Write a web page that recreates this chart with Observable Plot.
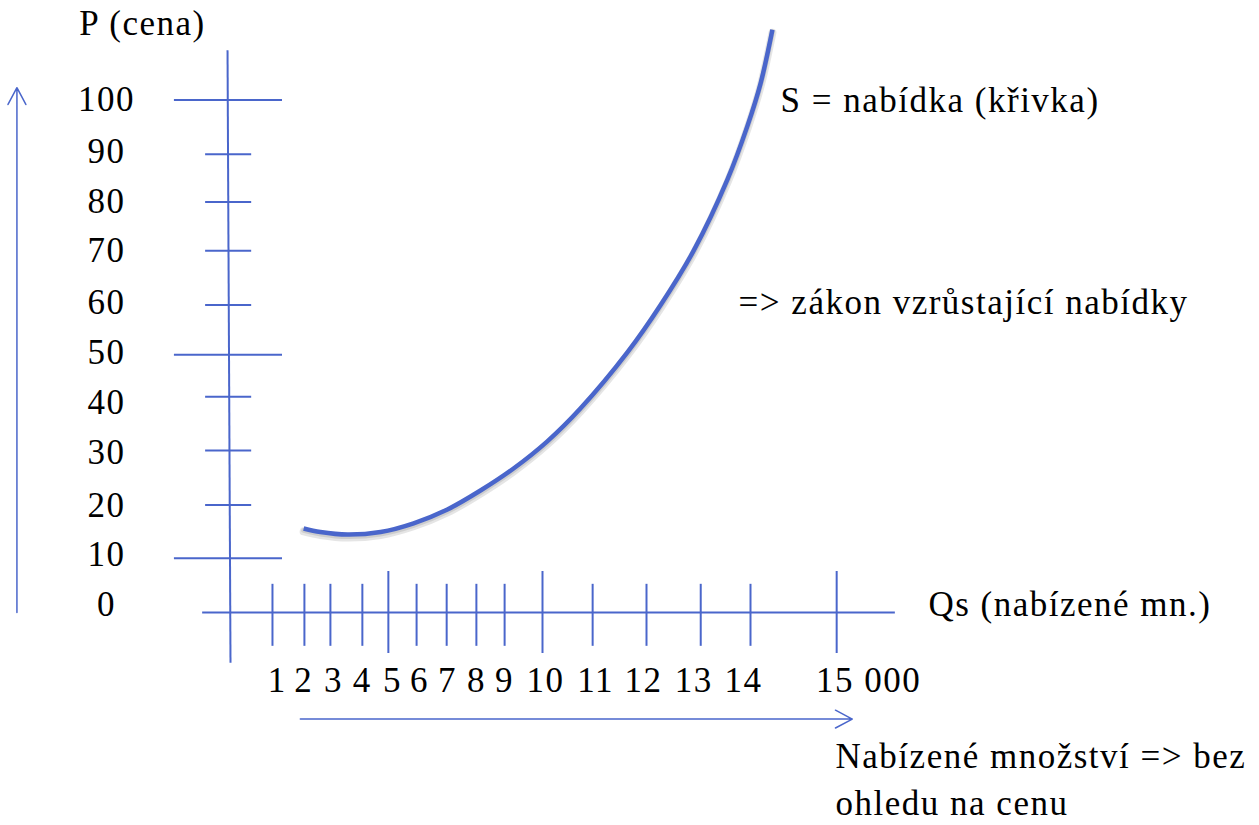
<!DOCTYPE html>
<html>
<head>
<meta charset="utf-8">
<script src="https://cdn.jsdelivr.net/npm/d3@7"></script>
<script src="https://cdn.jsdelivr.net/npm/@observablehq/plot@0.6"></script>
<style>
  html, body { margin: 0; padding: 0; background: #fff; overflow: hidden; }
</style>
</head>
<body>
<div id="chart"></div>
<script>
// ---- Data ----
// Price axis (P): nominal tick values, and where each tick is actually drawn (hand-drawn, slightly irregular)
const yTickValues   = [100, 90, 80, 70, 60, 50, 40, 30, 20, 10];
const yTickDrawnAt  = [100, 89.4, 80.1, 70.6, 60.0, 50.3, 42.1, 31.6, 21.0, 10.6];
const yTickMajor    = [true, false, false, false, false, true, false, false, false, true];
const yLabels       = ["0", "10", "20", "30", "40", "50", "60", "70", "80", "90", "100"];
const yLabelAt      = [1.6, 11.3, 20.9, 31.1, 40.9, 50.7, 60.4, 70.6, 80.2, 89.8, 100];

// Quantity axis (Qs): tick labels, drawn tick positions, label positions
const xTickLabels   = ["1","2","3","4","5","6","7","8","9","10","11","12","13","14","15 000"];
const xTickDrawnAt  = [1.13, 1.99, 2.69, 3.55, 4.25, 5.01, 5.82, 6.62, 7.38, 8.40, 9.75, 11.20, 12.66, 14.00, 16.32];
const xTickMajor    = [false,false,false,false,true,false,false,false,false,true,false,false,false,false,true];
const xLabelAt      = [1.26, 1.97, 2.77, 3.55, 4.36, 5.09, 5.84, 6.62, 7.38, 8.48, 9.83, 11.12, 12.47, 13.81, 17.18];

// Supply curve S (quantity, price)
const supplyQ = [1.97, 2.42, 3.15, 4.04, 4.93, 5.84, 6.73, 7.62, 8.53, 9.42, 10.69, 11.58, 12.47, 13.38, 13.92, 14.27, 14.59];
const supplyP = [16.4, 15.7, 15.2, 15.7, 17.4, 20.1, 23.8, 28.1, 33.4, 39.8, 50.8, 60.0, 70.6, 84.5, 95.0, 103.2, 113.7];

// ---- Build tables ----
const yTicks = yTickValues.map((v, i) => ({value: v, at: yTickDrawnAt[i], major: yTickMajor[i]}));
const yLabelRows = yLabels.map((t, i) => ({text: t, at: yLabelAt[i]}));
const xTicks = xTickLabels.map((t, i) => ({label: t, at: xTickDrawnAt[i], major: xTickMajor[i]}));
const xLabelRows = xTickLabels.map((t, i) => ({text: t, at: xLabelAt[i]}));
const supply = supplyQ.map((q, i) => ({q, p: supplyP[i]}));

const BLUE = "#4a66cb";
const FS = 35;

const chart = Plot.plot({
  width: 1259,
  height: 825,
  marginTop: 0, marginRight: 0, marginBottom: 0, marginLeft: 0,
  x: {domain: [0, 14], range: [230, 750], axis: null},
  y: {domain: [0, 100], range: [612, 99.5], axis: null},
  style: {fontFamily: "'Liberation Serif', serif", letterSpacing: "1.5px", background: "#fff", color: "#000"},
  marks: [
    // axes (hand drawn)
    Plot.link([0], {x1: -0.08, y1: 109.7, x2: 0, y2: -9.8, stroke: BLUE, strokeWidth: 2}),
    Plot.ruleY([0], {x1: -0.75, x2: 17.9, stroke: BLUE, strokeWidth: 2}),
    // price ticks
    Plot.ruleY(yTicks, {y: "at", x1: d => d.major ? -1.51 : -0.67, x2: d => d.major ? 1.40 : 0.57, stroke: BLUE, strokeWidth: 2}),
    // quantity ticks
    Plot.ruleX(xTicks, {x: "at", y1: d => d.major ? -8.0 : -6.6, y2: d => d.major ? 8.0 : 5.5, stroke: BLUE, strokeWidth: 2}),
    // price labels
    Plot.text(yLabelRows, {x: -3.34, y: "at", text: "text", fontSize: FS, fill: "#000", textAnchor: "middle", lineAnchor: "middle"}),
    // quantity labels
    Plot.text(xLabelRows, {x: "at", y: -15.6, text: "text", fontSize: FS, fill: "#000", textAnchor: "middle", lineAnchor: "bottom"}),
    // supply curve shadow + curve
    Plot.line(supply, {x: "q", y: "p", curve: "catmull-rom", stroke: "#000", strokeOpacity: 0.10, strokeWidth: 8, dy: 3}),
    Plot.line(supply, {x: "q", y: "p", curve: "catmull-rom", stroke: "#000", strokeOpacity: 0.10, strokeWidth: 5, dy: 2}),
    Plot.line(supply, {x: "q", y: "p", curve: "catmull-rom", stroke: BLUE, strokeWidth: 4.5, strokeLinecap: "butt"}),
    // direction arrows
    Plot.arrow([0], {x1: -5.75, y1: 0, x2: -5.75, y2: 102.4, stroke: BLUE, strokeWidth: 1.5, headLength: 19, headAngle: 56}),
    Plot.arrow([0], {x1: 1.88, y1: -20.8, x2: 16.74, y2: -20.8, stroke: BLUE, strokeWidth: 1.5, headLength: 19, headAngle: 56}),
    // annotations
    Plot.text(["P (cena)"], {x: -4.07, y: 112.6, text: d => d, fontSize: FS, fill: "#000", textAnchor: "start", lineAnchor: "bottom"}),
    Plot.text(["S = nabídka (křivka)"], {x: 14.81, y: 97.6, text: d => d, fontSize: FS, fill: "#000", textAnchor: "start", lineAnchor: "bottom"}),
    Plot.text(["=> zákon vzrůstající nabídky"], {x: 13.68, y: 58.3, text: d => d, fontSize: FS, fill: "#000", textAnchor: "start", lineAnchor: "bottom"}),
    Plot.text(["Qs (nabízené mn.)"], {x: 18.79, y: -0.6, text: d => d, fontSize: FS, fill: "#000", textAnchor: "start", lineAnchor: "bottom"}),
    Plot.text(["Nabízené množství => bez\nohledu na cenu"], {x: 16.29, y: -39.6, text: d => d, fontSize: FS, fill: "#000", textAnchor: "start", lineAnchor: "bottom", lineHeight: 1.37})
  ]
});

document.getElementById("chart").appendChild(chart);
</script>
</body>
</html>
